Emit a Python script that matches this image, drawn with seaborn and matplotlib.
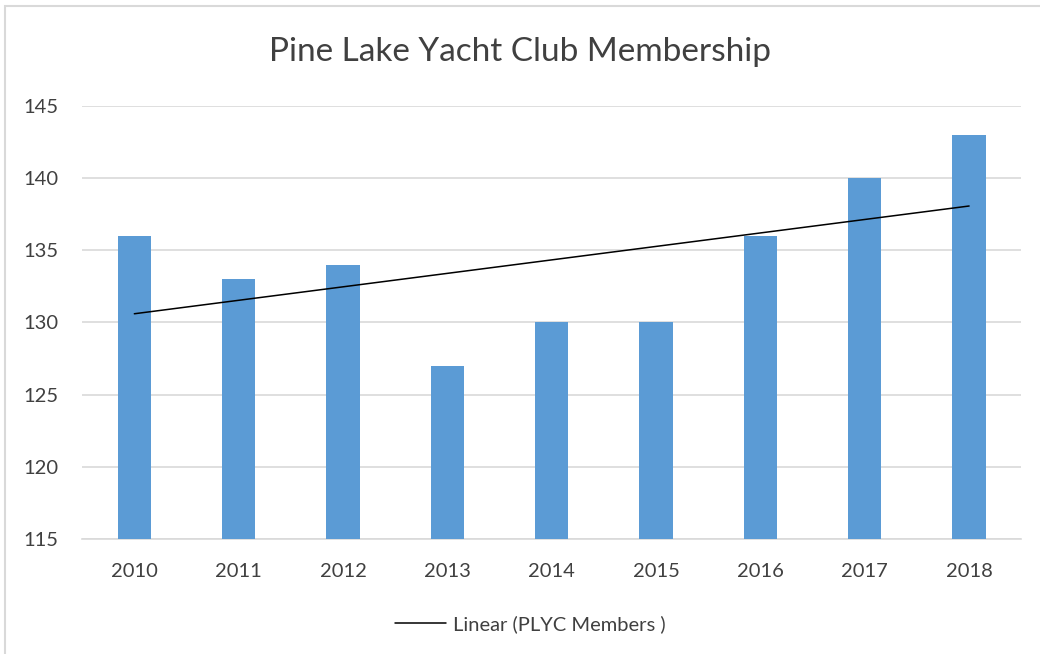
import numpy as np
import pandas as pd
import seaborn as sns
import matplotlib.pyplot as plt
from matplotlib.patches import Rectangle

# data
years = ["2010", "2011", "2012", "2013", "2014", "2015", "2016", "2017", "2018"]
members = [136, 133, 134, 127, 130, 130, 136, 140, 143]

df = pd.DataFrame({"year": years, "members": members})

sns.set_theme(style="white")
plt.rcParams["font.family"] = ["Lato", "DejaVu Sans"]

fig = plt.figure(figsize=(10.4, 6.54), dpi=100)
ax = fig.add_axes([0.079, 0.176, 0.903, 0.662])

sns.barplot(data=df, x="year", y="members", color="#5B9BD5", saturation=1,
            width=0.32, ax=ax, zorder=3, linewidth=0)

# linear trend line (Excel style)
pos = np.arange(len(years))
slope, icpt = np.polyfit(pos, members, 1)
ax.plot(pos, slope * pos + icpt, color="black", lw=1.1, zorder=4,
        label="Linear (PLYC Members )")

ax.set_ylim(115, 145)
ax.set_yticks(range(115, 146, 5))
ax.set_xlim(-0.5, len(years) - 0.5)
ax.yaxis.grid(True, color="#D9D9D9", lw=1.2, zorder=0)
for s in ["top", "right", "left"]:
    ax.spines[s].set_visible(False)
ax.spines["bottom"].set_color("#D9D9D9")
ax.spines["bottom"].set_linewidth(1.2)
ax.tick_params(axis="both", length=0, labelsize=14.5, colors="#404040")
ax.tick_params(axis="x", pad=17)
ax.tick_params(axis="y", pad=17)
ax.set_xlabel("")
ax.set_ylabel("")

fig.text(0.5, 0.92, "Pine Lake Yacht Club Membership", ha="center", va="center",
         fontsize=24, color="#404040")

leg = fig.legend(loc="center", bbox_to_anchor=(0.51, 0.045), frameon=False,
                 fontsize=14.5, handlelength=2.5, handletextpad=0.35)
for t in leg.get_texts():
    t.set_color("#404040")

# chart area border
fig.patches.append(Rectangle((5 / 1040, -0.1), 1.2, 1.1 - 6 / 654, fill=False,
                             edgecolor="#D9D9D9", lw=1.5, transform=fig.transFigure))

fig.savefig("out.png", dpi=100)
